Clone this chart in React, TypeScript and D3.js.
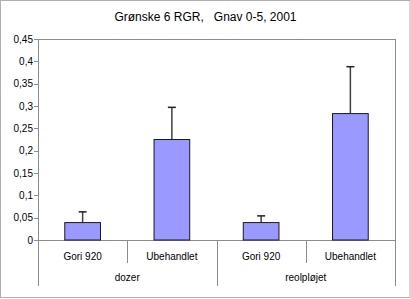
import React from "react";
import * as d3 from "d3";

const categories = ["Gori 920", "Ubehandlet", "Gori 920", "Ubehandlet"];
const groups = ["dozer", "reolpløjet"];
const values = [0.039, 0.225, 0.039, 0.283];
const errors = [0.024, 0.072, 0.015, 0.105];
const yTicks = [0, 0.05, 0.1, 0.15, 0.2, 0.25, 0.3, 0.35, 0.4, 0.45];
const title = "Grønske 6 RGR,   Gnav 0-5, 2001";

const W = 411, H = 299;
const left = 38, right = 395, top = 39, bottom = 240;

export default function App() {
  const x = d3.scaleBand<number>().domain(d3.range(categories.length)).range([left, right]).paddingInner(0).paddingOuter(0);
  const y = d3.scaleLinear().domain([0, 0.45]).range([bottom, top]);
  const bw = x.bandwidth() / 2.5;
  const fmt = (v: number) => d3.format(".2~f")(v).replace(".", ",");
  const font = "'Liberation Sans', Arial, sans-serif";
  const groupW = x.bandwidth() * 2;
  return (
    <svg width={W} height={H} style={{ position: "absolute", left: 0, top: 0 }} fontFamily={font}>
      <rect x={0} y={0} width={W} height={H} fill="white" />
      <rect x={0.5} y={0.5} width={W - 1.5} height={H - 2} fill="none" stroke="#b0b0b0" />
      <text x={W / 2} y={20.5} textAnchor="middle" fontSize={12} style={{ whiteSpace: "pre" }}>{title}</text>
      <rect x={left + 0.5} y={top + 0.5} width={right - left} height={bottom - top} fill="none" stroke="#8c8c8c" />
      {yTicks.map((t) => (
        <g key={t}>
          <line x1={left - 4} x2={left} y1={Math.round(y(t)) + 0.5} y2={Math.round(y(t)) + 0.5} stroke="#8c8c8c" />
          <text x={left - 5} y={y(t)} dy="0.35em" textAnchor="end" fontSize={10}>{fmt(t)}</text>
        </g>
      ))}
      {categories.map((c, i) => {
        const cx = x(i)! + x.bandwidth() / 2;
        return (
          <g key={i}>
            <line x1={cx} x2={cx} y1={y(values[i] + errors[i])} y2={y(values[i])} stroke="#404040" strokeWidth={1.5} />
            <line x1={cx - 4} x2={cx + 4} y1={y(values[i] + errors[i])} y2={y(values[i] + errors[i])} stroke="#202020" strokeWidth={1.5} />
            <rect x={cx - bw / 2} y={y(values[i])} width={bw} height={y(0) - y(values[i])} fill="#9999ff" stroke="#1a1a1a" strokeWidth={1} />
            <text x={cx} y={260} textAnchor="middle" fontSize={10}>{c}</text>
          </g>
        );
      })}
      {[1, 3].map((i) => (
        <line key={i} x1={Math.round(x(i)!) + 0.5} x2={Math.round(x(i)!) + 0.5} y1={bottom} y2={263} stroke="#8c8c8c" />
      ))}
      {[0, 2, 4].map((i) => {
        const xx = i === 4 ? right : x(i)!;
        return <line key={i} x1={Math.round(xx) + 0.5} x2={Math.round(xx) + 0.5} y1={bottom} y2={286} stroke="#8c8c8c" />;
      })}
      {groups.map((g, j) => (
        <text key={g} x={left + groupW * j + groupW / 2} y={281} textAnchor="middle" fontSize={10}>{g}</text>
      ))}
    </svg>
  );
}
